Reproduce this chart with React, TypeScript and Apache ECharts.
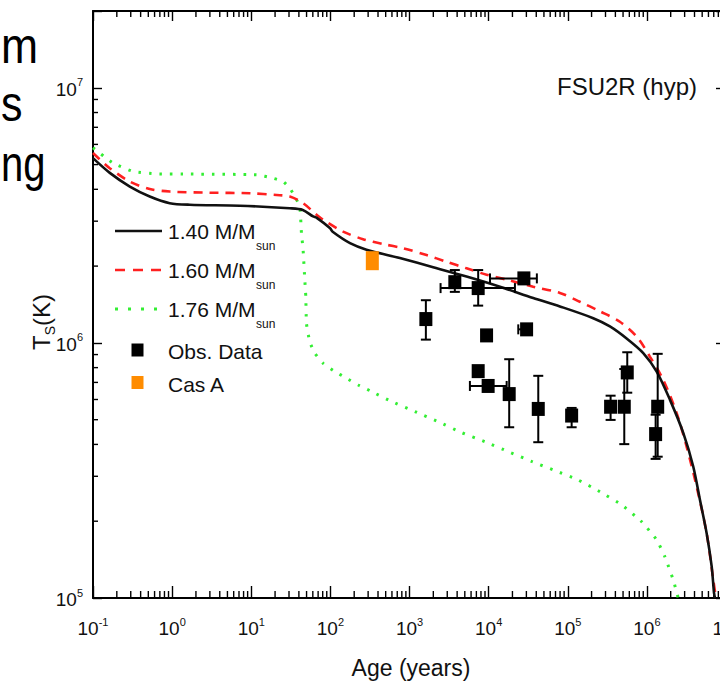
import React, { useEffect, useRef } from 'react';
import * as echarts from 'echarts';

// ---------- data (age in years, surface temperature in K) ----------
const curve140: [number, number][] = [
  [0.1, 5.30e6], [0.163, 4.64e6], [0.292, 4.10e6], [0.521, 3.75e6], [0.933, 3.53e6],
  [1.67, 3.48e6], [7.16, 3.45e6], [30.7, 3.37e6], [44.8, 3.32e6], [60.5, 3.13e6],
  [67.3, 3.09e6], [98.4, 2.82e6], [108, 2.72e6], [177, 2.46e6], [286, 2.32e6],
  [755, 2.15e6], [1990, 1.98e6], [5260, 1.82e6], [13900, 1.66e6], [36600, 1.50e6],
  [79500, 1.39e6], [2.10e5, 1.25e6], [3.41e5, 1.16e6], [5.55e5, 1.04e6], [9.0e5, 9.12e5],
  [1.33e6, 7.72e5], [1.96e6, 5.98e5], [2.89e6, 4.43e5], [3.86e6, 3.27e5], [4.69e6, 2.42e5],
  [5.70e6, 1.79e5], [6.59e6, 1.33e5], [7.05e6, 1.05e5], [7.26e6, 1.0e5],
];

const curve160: [number, number][] = [
  [0.1, 5.55e6], [0.163, 4.84e6], [0.292, 4.29e6], [0.521, 4.01e6], [0.933, 3.92e6],
  [2.99, 3.88e6], [9.59, 3.86e6], [20.9, 3.80e6], [30.7, 3.75e6], [45.2, 3.53e6],
  [66.8, 3.18e6], [81, 3.04e6], [145, 2.73e6], [259, 2.55e6], [465, 2.44e6],
  [832, 2.35e6], [1640, 2.21e6], [2940, 2.08e6], [5260, 1.96e6], [9420, 1.85e6],
  [16900, 1.77e6], [36600, 1.66e6], [79500, 1.57e6], [1.42e5, 1.45e6], [2.55e5, 1.33e6],
  [4.56e5, 1.21e6], [7.41e5, 1.06e6], [1.09e6, 8.84e5], [1.61e6, 7.16e5], [2.38e6, 5.30e5],
  [3.18e6, 3.92e5], [4.26e6, 2.73e5], [5.70e6, 1.79e5], [6.90e6, 1.18e5], [7.46e6, 1.0e5],
];

const curve176: [number, number][] = [
  [0.1, 5.82e6], [0.179, 5.07e6], [0.321, 4.70e6], [0.634, 4.60e6], [1.67, 4.59e6],
  [11.65, 4.56e6], [18.9, 4.42e6], [25.3, 4.29e6], [30.7, 4.04e6], [35.5, 3.75e6],
  [41.0, 3.43e6], [43.1, 2.69e6], [45.2, 2.32e6], [47.5, 1.77e6], [48.9, 1.52e6],
  [49.9, 1.19e6], [54.9, 1.01e6], [63.5, 9.12e5], [81, 8.32e5], [114, 7.72e5],
  [160, 7.27e5], [224, 6.84e5], [315, 6.50e5], [593, 5.89e5], [1170, 5.38e5],
  [2300, 4.91e5], [4550, 4.45e5], [8970, 4.10e5], [17700, 3.75e5], [34900, 3.43e5],
  [68900, 3.16e5], [1.36e5, 2.90e5], [2.55e5, 2.61e5], [4.80e5, 2.32e5], [8.59e5, 1.99e5],
  [1.33e6, 1.69e5], [1.69e6, 1.45e5], [2.15e6, 1.18e5], [2.49e6, 1.0e5],
];

// observations (-1 = no error bar on that side)
const obsAge = [3740, 7380, 27900, 1610, 9420, 30200, 7380, 9860, 18200, 42400, 1.12e5, 3.48e5, 5.18e5, 5.65e5, 1.37e6, 1.29e6];
const obsTemp = [1.73e6, 1.64e6, 1.79e6, 1.24e6, 1.07e6, 1.13e6, 7.75e5, 6.78e5, 6.30e5, 5.51e5, 5.19e5, 5.62e5, 5.62e5, 7.66e5, 5.62e5, 4.39e5];
const obsAgeLo = [-1, 2470, 10400, -1, -1, 23700, -1, 5800, -1, -1, -1, -1, -1, -1, -1, -1];
const obsAgeHi = [-1, 21500, 40700, -1, -1, 30200, -1, 16900, -1, -1, -1, -1, -1, -1, -1, -1];
const obsTempLo = [1.585e6, 1.40e6, -1, 1.03e6, -1, -1, -1, -1, 4.67e5, 4.08e5, 4.67e5, 4.99e5, 4.01e5, 6.38e5, 3.58e5, 3.51e5];
const obsTempHi = [1.93e6, 1.93e6, -1, 1.47e6, -1, -1, -1, -1, 8.63e5, 7.43e5, 5.56e5, 6.21e5, 7.90e5, 9.19e5, 9.06e5, 5.23e5];

const casAAge = [339];
const casATemp = [2.10e6];

const X_MIN = 0.1;
const X_MAX = 1e7;
const Y_MIN = 1e5;
const Y_MAX = 2e7;
const minorMultipliers = [2, 3, 4, 5, 6, 7, 8, 9];
const xDecades = [-1, 0, 1, 2, 3, 4, 5, 6];
const yDecades = [5, 6];

const legendLabels = ['1.40 M/M', '1.60 M/M', '1.76 M/M', 'Obs. Data', 'Cas A'];
const slideFragments = ['m', 's', 'ng'];
const FONT = '"Liberation Sans", Arial, Helvetica, sans-serif';

export default function App() {
  const ref = useRef<HTMLDivElement>(null);

  useEffect(() => {
    if (!ref.current) return;
    const chart = echarts.init(ref.current, null, { renderer: 'svg' });

    const xMinor: number[] = [];
    xDecades.forEach((d) => minorMultipliers.forEach((m) => xMinor.push(m * Math.pow(10, d))));
    const yMinor: number[] = [];
    yDecades.forEach((d) => minorMultipliers.forEach((m) => yMinor.push(m * Math.pow(10, d))));

    const labelFmt = (v: number) => {
      const e = Math.log10(v);
      const r = Math.round(e);
      if (Math.abs(e - r) > 1e-6) return '';
      return `{b|10}{e|${r}}`;
    };
    const labelRich = {
      b: { fontSize: 19, fontFamily: FONT, color: '#111', lineHeight: 22, verticalAlign: 'bottom' },
      e: { fontSize: 11, fontFamily: FONT, color: '#111', lineHeight: 10, verticalAlign: 'top' },
    };
    const axisLine = { show: true, onZero: false, lineStyle: { color: '#000', width: 2 } };

    const obsErr = obsAge.map((a, i) => [a, obsTemp[i], obsAgeLo[i], obsAgeHi[i], obsTempLo[i], obsTempHi[i]]);

    const tickStyle = { stroke: '#000', lineWidth: 1.4 };

    const option: any = {
      animation: false,
      backgroundColor: '#fff',
      grid: { left: 93, top: 11, width: 633, height: 587, containLabel: false },
      xAxis: [
        {
          type: 'log', logBase: 10, min: X_MIN, max: X_MAX, position: 'bottom',
          axisLine, splitLine: { show: false },
          axisTick: { show: true, inside: true, length: 12, lineStyle: { color: '#000', width: 1.4 } },
          axisLabel: { show: true, interval: 0, formatter: labelFmt, margin: 18, rich: labelRich },
        },
        {
          type: 'log', logBase: 10, min: X_MIN, max: X_MAX, position: 'top',
          axisLine, splitLine: { show: false },
          axisTick: { show: true, inside: true, length: 10, lineStyle: { color: '#000', width: 1.4 } },
          axisLabel: { show: false },
        },
      ],
      yAxis: [
        {
          type: 'log', logBase: 10, min: Y_MIN, max: Y_MAX, position: 'left',
          axisLine, splitLine: { show: false },
          axisTick: { show: true, inside: true, length: 9, lineStyle: { color: '#000', width: 1.4 } },
          axisLabel: { show: true, interval: 0, formatter: labelFmt, margin: 10, rich: labelRich },
        },
        {
          type: 'log', logBase: 10, min: Y_MIN, max: Y_MAX, position: 'right',
          axisLine, splitLine: { show: false },
          axisTick: { show: true, inside: true, length: 10, lineStyle: { color: '#000', width: 1.4 } },
          axisLabel: { show: false },
        },
      ],
      series: [
        {
          type: 'custom', name: 'xMinor', silent: true, clip: false, z: 1,
          data: xMinor.map((v) => [v, Y_MIN]),
          renderItem: (_p: any, api: any) => {
            const v = api.value(0);
            const b = api.coord([v, Y_MIN]);
            const t = api.coord([v, Y_MAX]);
            return {
              type: 'group', children: [
                { type: 'line', shape: { x1: b[0], y1: b[1], x2: b[0], y2: b[1] - 7 }, style: tickStyle },
                { type: 'line', shape: { x1: t[0], y1: t[1], x2: t[0], y2: t[1] + 6 }, style: tickStyle },
              ],
            };
          },
        },
        {
          type: 'custom', name: 'yMinor', silent: true, clip: false, z: 1,
          data: yMinor.map((v) => [X_MIN, v]),
          renderItem: (_p: any, api: any) => {
            const v = api.value(1);
            const l = api.coord([X_MIN, v]);
            const r = api.coord([X_MAX, v]);
            return {
              type: 'group', children: [
                { type: 'line', shape: { x1: l[0], y1: l[1], x2: l[0] + 5, y2: l[1] }, style: tickStyle },
                { type: 'line', shape: { x1: r[0], y1: r[1], x2: r[0] - 5, y2: r[1] }, style: tickStyle },
              ],
            };
          },
        },
        {
          type: 'line', name: '1.76', data: curve176, showSymbol: false, symbol: 'none', z: 2,
          smooth: 0.15,
          lineStyle: { color: '#33ee33', width: 3, type: [2.5, 8] },
        },
        {
          type: 'line', name: '1.60', data: curve160, showSymbol: false, symbol: 'none', z: 3,
          smooth: 0.3,
          lineStyle: { color: '#ff2020', width: 2.6, type: [9, 7] },
        },
        {
          type: 'line', name: '1.40', data: curve140, showSymbol: false, symbol: 'none', z: 4,
          smooth: 0.3,
          lineStyle: { color: '#111', width: 2.6 },
        },
        {
          type: 'custom', name: 'errors', silent: true, z: 5,
          data: obsErr,
          renderItem: (_p: any, api: any) => {
            const x = api.value(0), y = api.value(1);
            const xl = api.value(2), xh = api.value(3), yl = api.value(4), yh = api.value(5);
            const st = { stroke: '#000', lineWidth: 2 };
            const cap = 5;
            const children: any[] = [];
            if (yl > 0) {
              const a = api.coord([x, yl]);
              const b = api.coord([x, yh]);
              children.push({ type: 'line', shape: { x1: a[0], y1: a[1], x2: b[0], y2: b[1] }, style: st });
              children.push({ type: 'line', shape: { x1: a[0] - cap, y1: a[1], x2: a[0] + cap, y2: a[1] }, style: st });
              children.push({ type: 'line', shape: { x1: b[0] - cap, y1: b[1], x2: b[0] + cap, y2: b[1] }, style: st });
            }
            if (xl > 0) {
              const a = api.coord([xl, y]);
              const b = api.coord([xh, y]);
              children.push({ type: 'line', shape: { x1: a[0], y1: a[1], x2: b[0], y2: b[1] }, style: st });
              children.push({ type: 'line', shape: { x1: a[0], y1: a[1] - cap, x2: a[0], y2: a[1] + cap }, style: st });
              children.push({ type: 'line', shape: { x1: b[0], y1: b[1] - cap, x2: b[0], y2: b[1] + cap }, style: st });
            }
            return { type: 'group', children };
          },
        },
        {
          type: 'scatter', name: 'Obs. Data', symbol: 'rect', symbolSize: [13, 14], z: 6,
          itemStyle: { color: '#000', opacity: 1 },
          data: obsAge.map((a, i) => [a, obsTemp[i]]),
        },
        {
          type: 'scatter', name: 'Cas A', symbol: 'rect', symbolSize: [13, 19], z: 6,
          itemStyle: { color: '#ff8c00', opacity: 1 },
          data: casAAge.map((a, i) => [a, casATemp[i]]),
        },
      ],
      graphic: [
        // slide text fragments at the left edge
        { type: 'text', x: 1, y: 46, scaleX: 0.89, style: { text: slideFragments[0], font: `50px ${FONT}`, fill: '#000', align: 'left', verticalAlign: 'middle' } },
        { type: 'text', x: 1, y: 104, scaleX: 0.86, style: { text: slideFragments[1], font: `50px ${FONT}`, fill: '#000', align: 'left', verticalAlign: 'middle' } },
        { type: 'text', x: 1, y: 164, scaleX: 0.8, style: { text: slideFragments[2], font: `50px ${FONT}`, fill: '#000', align: 'left', verticalAlign: 'middle' } },
        // model label
        { type: 'text', x: 557, y: 86, style: { text: 'FSU2R (hyp)', font: `24px ${FONT}`, fill: '#111', align: 'left', verticalAlign: 'middle' } },
        // axis titles
        { type: 'text', x: 411, y: 668, style: { text: 'Age (years)', font: `23px ${FONT}`, fill: '#111', align: 'center', verticalAlign: 'middle' } },
        {
          type: 'text', x: 41, y: 322, rotation: Math.PI / 2,
          style: {
            text: '{a|T}{s|S}{a|(K)}', align: 'center', verticalAlign: 'middle', fill: '#111',
            rich: {
              a: { fontSize: 24, fontFamily: FONT, lineHeight: 32, verticalAlign: 'middle' },
              s: { fontSize: 14, fontFamily: FONT, lineHeight: 12, verticalAlign: 'bottom' },
            },
          },
        },
        // legend
        { type: 'line', shape: { x1: 115, y1: 231, x2: 162, y2: 231 }, style: { stroke: '#111', lineWidth: 2.6 } },
        { type: 'line', shape: { x1: 115, y1: 270, x2: 162, y2: 270 }, style: { stroke: '#ff2020', lineWidth: 2.6, lineDash: [10, 8] } },
        { type: 'line', shape: { x1: 115, y1: 309, x2: 162, y2: 309 }, style: { stroke: '#33ee33', lineWidth: 3, lineDash: [3, 10] } },
        { type: 'rect', shape: { x: 131.5, y: 343.5, width: 12, height: 13 }, style: { fill: '#000' } },
        { type: 'rect', shape: { x: 131.5, y: 376, width: 12, height: 13 }, style: { fill: '#ff8c00' } },
        { type: 'text', x: 168, y: 231, style: { text: legendLabels[0], font: `21px ${FONT}`, fill: '#111', verticalAlign: 'middle' } },
        { type: 'text', x: 256, y: 246, style: { text: 'sun', font: `12px ${FONT}`, fill: '#111', verticalAlign: 'middle' } },
        { type: 'text', x: 168, y: 270, style: { text: legendLabels[1], font: `21px ${FONT}`, fill: '#111', verticalAlign: 'middle' } },
        { type: 'text', x: 256, y: 285, style: { text: 'sun', font: `12px ${FONT}`, fill: '#111', verticalAlign: 'middle' } },
        { type: 'text', x: 168, y: 309, style: { text: legendLabels[2], font: `21px ${FONT}`, fill: '#111', verticalAlign: 'middle' } },
        { type: 'text', x: 256, y: 324, style: { text: 'sun', font: `12px ${FONT}`, fill: '#111', verticalAlign: 'middle' } },
        { type: 'text', x: 168, y: 351, style: { text: legendLabels[3], font: `21px ${FONT}`, fill: '#111', verticalAlign: 'middle' } },
        { type: 'text', x: 168, y: 384, style: { text: legendLabels[4], font: `21px ${FONT}`, fill: '#111', verticalAlign: 'middle' } },
      ],
    };

    chart.setOption(option);
    return () => chart.dispose();
  }, []);

  return (
    <div style={{ position: 'fixed', left: 0, top: 0, width: 720, height: 686, overflow: 'hidden', background: '#fff' }}>
      <div ref={ref} style={{ width: 760, height: 686 }} />
    </div>
  );
}
